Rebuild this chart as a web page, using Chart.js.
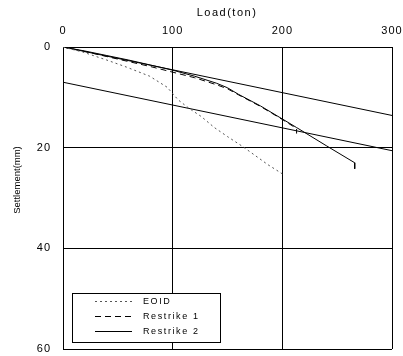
<!DOCTYPE html>
<html>
<head>
<meta charset="utf-8">
<script src="https://cdn.jsdelivr.net/npm/chart.js@4.4.0/dist/chart.umd.min.js"></script>
<style>
  html, body { margin: 0; padding: 0; background: #fff; }
  #wrap { width: 403px; height: 356px; }
</style>
</head>
<body>
<div id="wrap"><canvas id="pileChart" width="403" height="356"></canvas></div>
<script>
// load (ton) / settlement (mm)
const eoidLoad = [0, 18, 40, 58, 79, 95, 105, 115, 126, 138, 150, 164, 187, 200];
const eoidSettle = [0, 1.0, 2.6, 4.0, 5.8, 8.0, 10.5, 12.2, 13.8, 16.0, 17.8, 19.8, 23.4, 25.2];

const restrike1Load = [0, 20, 40, 60, 80, 100, 120, 140, 150, 160, 180, 200, 213, 213];
const restrike1Settle = [0, 0.9, 1.9, 2.9, 3.9, 5.0, 6.1, 7.5, 8.3, 9.5, 11.8, 14.4, 16.2, 17.2];

const restrike2Load = [0, 20, 40, 60, 80, 100, 120, 140, 150, 160, 180, 200, 213, 240, 266, 266];
const restrike2Settle = [0, 0.8, 1.7, 2.6, 3.6, 4.6, 5.8, 7.2, 8.1, 9.4, 11.7, 14.3, 16.0, 19.6, 23.0, 24.2];

// elastic line and offset line
const elasticLoad = [0, 300];
const elasticSettle = [0, 13.6];
const offsetLoad = [0, 300];
const offsetSettle = [7.0, 20.6];

const loadTicks = [0, 100, 200, 300];
const settleTicks = [0, 20, 40, 60];

const legendNames = ["EOID", "Restrike 1", "Restrike 2"];

function pairs(xs, ys) {
  return xs.map((x, i) => ({ x: x, y: ys[i] }));
}

function noPadding(scale) {
  scale.paddingLeft = 0;
  scale.paddingRight = 0;
  scale.paddingTop = 0;
  scale.paddingBottom = 0;
}

// titles and boxed legend drawn by hand
const extrasPlugin = {
  id: "extras",
  beforeDraw(chart) {
    chart.ctx.letterSpacing = "1px";
  },
  afterDraw(chart) {
    const ctx = chart.ctx;
    ctx.save();
    ctx.fillStyle = "#000";
    ctx.letterSpacing = "1.5px";
    ctx.font = "11px 'Liberation Sans', Arial, sans-serif";
    ctx.textAlign = "center";
    ctx.textBaseline = "middle";
    ctx.fillText("Load(ton)", 227, 13);

    ctx.letterSpacing = "0px";
    ctx.font = "9.5px 'Liberation Sans', Arial, sans-serif";
    ctx.translate(17, 180);
    ctx.rotate(-Math.PI / 2);
    ctx.fillText("Settlement(mm)", 0, 0);
    ctx.restore();

    // legend
    ctx.save();
    ctx.fillStyle = "#fff";
    ctx.fillRect(72.5, 293.5, 148, 49);
    ctx.strokeStyle = "#000";
    ctx.lineWidth = 1;
    ctx.strokeRect(72.5, 293.5, 148, 49);
    const styles = chart.data.datasets.slice(0, 3);
    legendNames.forEach((name, i) => {
      const y = 301.5 + i * 15;
      ctx.beginPath();
      ctx.strokeStyle = styles[i].borderColor;
      ctx.lineWidth = styles[i].borderWidth;
      ctx.setLineDash(styles[i].borderDash || []);
      ctx.moveTo(95, y);
      ctx.lineTo(132, y);
      ctx.stroke();
      ctx.setLineDash([]);
      ctx.fillStyle = "#000";
      ctx.letterSpacing = "1.6px";
      ctx.font = "9px 'Liberation Sans', Arial, sans-serif";
      ctx.textAlign = "left";
      ctx.textBaseline = "middle";
      ctx.fillText(name, 143, y);
    });
    ctx.restore();
  }
};

const ctx = document.getElementById("pileChart").getContext("2d");

new Chart(ctx, {
  type: "line",
  data: {
    datasets: [
      {
        label: "EOID",
        data: pairs(eoidLoad, eoidSettle),
        borderColor: "#555",
        borderWidth: 1,
        borderDash: [2, 3]
      },
      {
        label: "Restrike 1",
        data: pairs(restrike1Load, restrike1Settle),
        borderColor: "#000",
        borderWidth: 1,
        borderDash: [6, 4]
      },
      {
        label: "Restrike 2",
        data: pairs(restrike2Load, restrike2Settle),
        borderColor: "#000",
        borderWidth: 1
      },
      {
        label: "elastic",
        data: pairs(elasticLoad, elasticSettle),
        borderColor: "#000",
        borderWidth: 1
      },
      {
        label: "offset",
        data: pairs(offsetLoad, offsetSettle),
        borderColor: "#000",
        borderWidth: 1
      }
    ]
  },
  options: {
    responsive: false,
    animation: false,
    layout: { padding: { left: 0, right: 11, top: 0, bottom: 7 } },
    elements: {
      point: { radius: 0 },
      line: { tension: 0 }
    },
    plugins: {
      legend: { display: false },
      tooltip: { enabled: false }
    },
    scales: {
      x: {
        type: "linear",
        position: "top",
        min: 0,
        max: 300,
        afterBuildTicks: scale => {
          scale.ticks = loadTicks.map(v => ({ value: v }));
        },
        afterFit: scale => { scale.height = 47; noPadding(scale); },
        ticks: {
          color: "#000",
          padding: 9,
          font: { size: 11, family: "'Liberation Sans', Arial, sans-serif" }
        },
        grid: { color: "#000", lineWidth: 1, drawTicks: false, tickLength: 0 },
        border: { color: "#000", width: 1 }
      },
      y: {
        type: "linear",
        reverse: true,
        min: 0,
        max: 60,
        afterBuildTicks: scale => {
          scale.ticks = settleTicks.map(v => ({ value: v }));
        },
        afterFit: scale => { scale.width = 63; noPadding(scale); },
        ticks: {
          color: "#000",
          padding: 12,
          font: { size: 11, family: "'Liberation Sans', Arial, sans-serif" }
        },
        grid: { color: "#000", lineWidth: 1, drawTicks: false, tickLength: 0 },
        border: { color: "#000", width: 1 }
      }
    }
  },
  plugins: [extrasPlugin]
});
</script>
</body>
</html>
